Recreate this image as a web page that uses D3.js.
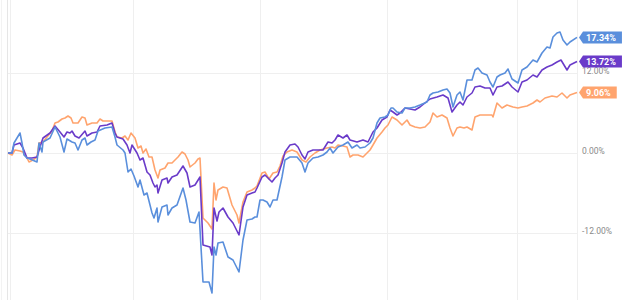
<!DOCTYPE html>
<html>
<head>
<meta charset="utf-8">
<script src="https://cdn.jsdelivr.net/npm/d3@7"></script>
<style>
  body { margin: 0; background: #fff; }
  svg { display: block; font-family: Roboto, "Noto Sans", sans-serif; }
</style>
</head>
<body>
<div id="chart"></div>
<script>
// trading-day offset, total return in %
const blueSeries = [[0,0],[4,0],[6,1.5],[12,3.0],[14,1.5],[16,-0.3],[19,-0.75],[22,-0.9],[29,-1.35],[31,1.5],[34,0.15],[35,1.65],[42,2.25],[47,3.9],[52,2.4],[56,0.15],[59,2.1],[64,1.65],[67,1.5],[70,0.45],[74,1.95],[77,2.25],[79,1.2],[83,1.65],[87,1.95],[90,3.3],[97,3.75],[104,3.9],[107,2.4],[109,1.2],[115,0.45],[117,0],[120,-2.85],[123,-2.4],[126,-3.45],[130,-5.1],[132,-4.05],[136,-6.3],[139,-6.0],[144,-9.0],[146,-9.75],[149,-8.25],[150,-10.35],[154,-8.1],[159,-7.8],[160,-9.3],[164,-8.25],[169,-7.8],[175,-5.25],[178,-7.05],[182,-10.35],[187,-10.5],[191,-8.85],[195,-19.35],[201,-19.35],[204,-21.0],[206,-14.1],[208,-15.3],[210,-13.5],[215,-13.35],[220,-15.6],[225,-16.05],[231,-17.85],[235,-13.05],[239,-10.05],[244,-9.9],[247,-9.6],[249,-9.6],[252,-7.05],[255,-7.05],[259,-7.35],[262,-8.1],[265,-7.05],[269,-7.05],[274,-3.6],[277,-1.05],[282,-0.6],[289,-0.6],[294,-1.5],[297,-2.85],[300,-1.5],[305,-0.75],[310,-0.6],[315,-0.3],[319,0.15],[322,0.75],[325,0],[330,0.9],[335,1.2],[340,1.65],[344,0.75],[349,1.2],[352,0.75],[357,0.9],[362,1.5],[365,2.25],[369,4.5],[372,5.25],[377,5.4],[380,5.7],[383,6.75],[385,6.75],[389,6.15],[394,6.0],[397,6.75],[402,6.75],[407,6.9],[412,7.2],[419,7.65],[422,8.7],[425,9.0],[430,9.15],[435,9.45],[439,9.6],[442,9.0],[445,6.9],[449,8.7],[452,9.15],[455,7.95],[459,10.95],[464,10.95],[467,12.45],[470,12.75],[474,12.0],[479,11.7],[482,10.65],[485,9.9],[489,11.4],[492,11.7],[497,12.0],[500,12.6],[504,11.1],[510,10.5],[514,12.45],[519,12.9],[525,13.95],[529,13.65],[534,15.0],[539,15.9],[542,15.75],[545,17.4],[549,18.0],[552,18.15],[555,16.95],[559,16.2],[562,16.65],[569,17.34]]

const purpleSeries = [[0,0],[4,0],[6,1.2],[12,1.5],[15,0.75],[19,-0.75],[24,-0.75],[29,-0.6],[32,0.9],[35,2.25],[42,3.0],[47,4.05],[52,3.15],[56,2.4],[59,3.15],[62,3.0],[64,3.3],[67,2.55],[71,2.25],[77,3.3],[79,2.55],[84,3.0],[89,3.15],[92,4.05],[99,4.2],[104,4.5],[107,3.0],[109,2.4],[115,2.1],[119,1.2],[122,0],[124,1.2],[129,0],[132,-1.05],[135,-0.75],[139,-2.85],[142,-3.3],[145,-4.5],[147,-5.1],[149,-4.8],[150,-6.0],[154,-4.05],[159,-3.75],[160,-4.5],[164,-3.6],[169,-3.3],[175,-1.95],[179,-3.0],[182,-5.1],[187,-4.8],[192,-3.6],[195,-13.8],[202,-14.1],[204,-15.3],[206,-8.25],[209,-10.2],[211,-8.85],[215,-8.25],[220,-9.6],[225,-10.5],[231,-12.3],[235,-8.1],[239,-6.3],[244,-6.0],[247,-5.85],[249,-5.25],[254,-3.6],[257,-3.3],[260,-3.75],[264,-4.35],[267,-3.75],[270,-3.3],[274,-1.5],[277,0.15],[282,1.2],[287,1.35],[290,0.9],[294,-0.3],[297,-0.9],[300,0.15],[305,0.45],[310,0.45],[315,0.45],[320,1.65],[324,1.5],[327,1.95],[330,2.7],[335,2.25],[339,2.7],[342,1.95],[349,1.65],[355,1.95],[360,1.65],[365,3.15],[369,3.75],[374,4.95],[379,5.4],[382,6.45],[385,6.15],[389,5.7],[392,6.0],[397,6.75],[402,6.6],[407,6.45],[412,6.9],[417,7.5],[422,8.1],[429,8.4],[435,8.7],[440,8.25],[444,6.15],[449,7.2],[452,7.65],[455,7.2],[459,8.4],[464,9.0],[467,9.9],[472,10.05],[477,9.75],[482,9.75],[485,8.7],[489,9.9],[494,10.05],[500,10.65],[504,9.9],[510,9.15],[514,10.65],[519,10.95],[525,11.7],[529,11.4],[534,12.45],[539,12.9],[544,13.2],[549,13.65],[553,13.95],[556,13.2],[559,12.45],[562,13.2],[569,13.72]]

const orangeSeries = [[0,0],[4,-0.3],[7,0.45],[12,0.3],[15,0.15],[19,-0.75],[21,-1.35],[25,-1.05],[29,-0.6],[31,1.5],[35,1.65],[39,2.4],[44,3.3],[47,4.5],[50,4.65],[54,5.1],[57,5.25],[60,5.55],[63,5.25],[65,4.5],[70,4.5],[74,5.4],[77,5.25],[79,4.2],[84,4.5],[89,4.5],[92,5.1],[95,4.8],[104,4.8],[107,3.15],[109,2.4],[114,2.25],[117,2.55],[120,1.95],[123,3.0],[127,2.25],[130,0.75],[133,1.05],[135,0],[138,0.6],[141,-0.6],[144,-0.6],[147,-2.55],[150,-3.75],[152,-2.55],[157,-2.25],[160,-1.5],[164,-1.5],[167,-1.05],[170,-0.6],[174,0.15],[177,-0.15],[180,-1.05],[182,-2.1],[187,-1.5],[190,-0.9],[192,-0.75],[195,-9.75],[200,-10.5],[204,-11.4],[206,-4.5],[208,-7.05],[210,-5.55],[215,-5.1],[219,-5.25],[224,-7.8],[229,-9.3],[231,-10.5],[235,-7.35],[239,-5.85],[244,-5.55],[247,-5.25],[249,-4.95],[254,-3.0],[257,-2.85],[261,-3.9],[265,-3.0],[269,-2.85],[272,-1.95],[275,-0.45],[279,0.15],[284,0.45],[289,0.15],[294,-1.05],[298,-1.35],[302,-0.6],[307,0],[312,0.45],[319,0.75],[324,0.9],[327,0.75],[330,1.2],[335,1.05],[339,0.9],[342,-0.6],[345,-0.3],[350,-0.3],[355,-0.6],[359,0],[362,0.45],[365,1.2],[369,2.25],[374,3.15],[377,3.75],[380,4.2],[384,5.4],[389,4.95],[394,4.2],[399,4.95],[402,4.2],[407,3.9],[412,3.75],[417,3.9],[422,4.65],[425,6.0],[429,5.4],[434,5.7],[439,5.25],[442,3.75],[445,2.55],[449,3.75],[452,3.9],[456,3.75],[459,3.9],[464,3.45],[467,5.4],[472,5.7],[479,5.7],[484,5.7],[485,5.4],[489,7.5],[494,6.75],[499,7.2],[505,6.9],[510,6.75],[514,6.9],[519,7.05],[525,7.5],[529,7.95],[532,7.65],[537,8.25],[544,8.55],[549,8.4],[554,9.0],[559,8.25],[562,8.7],[569,9.06]]

const yTicks = [-12, 0, 12]
const xGridDays = [2, 125, 252, 379, 509]
const lastDay = 569

const colors = { orange: '#ffa46e', purple: '#6a3bc9', blue: '#5a8fdc' }
const series = [
  { key: 'orange', values: orangeSeries },
  { key: 'purple', values: purpleSeries },
  { key: 'blue', values: blueSeries },
]

const width = 640
const height = 300

const svg = d3.select('#chart').append('svg')
  .attr('width', width)
  .attr('height', height)

const x = d3.scaleLinear().domain([0, lastDay]).range([8, 577])
const y = d3.scaleLinear().domain([-12, 12]).range([233, 73])

// outer frame lines
svg.append('line').attr('x1', 1.5).attr('x2', 1.5).attr('y1', 0).attr('y2', height)
  .attr('stroke', '#f3f3f3')
svg.append('line').attr('x1', 7.5).attr('x2', 7.5).attr('y1', 0).attr('y2', height)
  .attr('stroke', '#e6e6e6')

// vertical grid
svg.append('g').selectAll('line')
  .data(xGridDays.concat([lastDay]))
  .enter().append('line')
  .attr('x1', d => Math.round(x(d)) + 0.5)
  .attr('x2', d => Math.round(x(d)) + 0.5)
  .attr('y1', 0).attr('y2', height)
  .attr('stroke', '#efefef')

// horizontal grid
svg.append('g').selectAll('line')
  .data(yTicks)
  .enter().append('line')
  .attr('x1', x(0)).attr('x2', x(lastDay))
  .attr('y1', d => Math.round(y(d)) + 0.5)
  .attr('y2', d => Math.round(y(d)) + 0.5)
  .attr('stroke', '#efefef')

// y axis labels on the right
const yAxis = d3.axisRight(y)
  .tickValues(yTicks)
  .tickSize(0)
  .tickPadding(5)
  .tickFormat(d => d.toFixed(2) + '%')

const yAxisG = svg.append('g')
  .attr('transform', `translate(${x(lastDay)},0)`)
  .call(yAxis)
yAxisG.select('.domain').remove()
yAxisG.selectAll('text')
  .attr('dy', '0')
  .attr('fill', '#8a8a8a')
  .style('font-size', '8.5px')
  .style('font-family', 'Roboto, sans-serif')

// lines
const line = d3.line()
  .x(d => x(d[0]))
  .y(d => y(d[1]))

svg.append('g').selectAll('path')
  .data(series)
  .enter().append('path')
  .attr('d', d => line(d.values))
  .attr('fill', 'none')
  .attr('stroke', d => colors[d.key])
  .attr('stroke-width', 1.6)
  .attr('stroke-linejoin', 'round')

// end value flags
const flags = svg.append('g').selectAll('g')
  .data(series)
  .enter().append('g')
  .attr('transform', d => {
    const last = d.values[d.values.length - 1]
    return `translate(${x(last[0]) + 2},${y(last[1])})`
  })

flags.append('path').attr('class', 'flag').attr('fill', d => colors[d.key])

flags.append('text')
  .attr('x', 7)
  .attr('dy', '0.36em')
  .attr('fill', '#fff')
  .style('font-size', '9px')
  .style('font-weight', 'bold')
  .text(d => d.values[d.values.length - 1][1].toFixed(2) + '%')

flags.each(function () {
  const g = d3.select(this)
  const w = g.select('text').node().getComputedTextLength()
  const r = 7 + w + 6
  g.select('path.flag').attr('d', `M0,0L4,-6L${r},-6L${r},6L4,6Z`)
})
</script>
</body>
</html>
